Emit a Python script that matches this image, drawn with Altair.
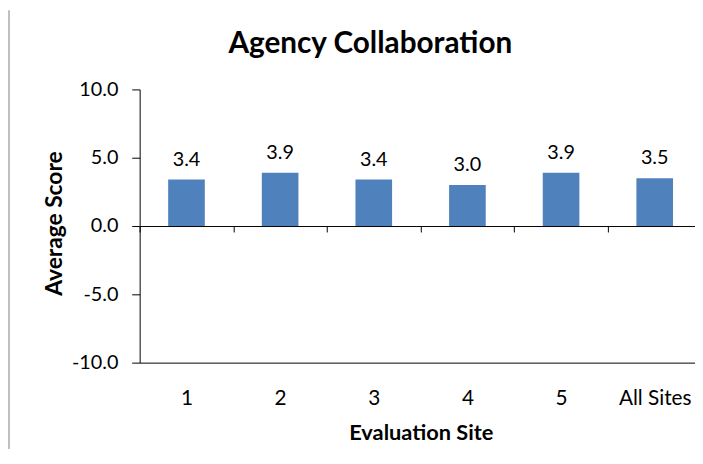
import altair as alt
import pandas as pd

sites = ["1", "2", "3", "4", "5", "All Sites"]
scores = [3.4, 3.9, 3.4, 3.0, 3.9, 3.5]
labels = ["3.4", "3.9", "3.4", "3.0", "3.9", "3.5"]
title_text = ["Agency Collaboration"]

idx = list(range(len(sites)))
df = pd.DataFrame({"pos": idx, "site": sites, "score": scores, "label": labels})
tdf = pd.DataFrame({"t": title_text})

FONT = "Lato"
W = 561
H = 276
STEP = 94.6  # pixel width of one category slot

label_expr = "[" + ",".join("'" + s + "'" for s in sites) + "][datum.value]"
boundaries = [-0.5] + [i + 0.5 for i in idx]

xscale = alt.Scale(domain=[-0.5, -0.5 + W / STEP], nice=False, zero=False, padding=0)
yscale = alt.Scale(domain=[-10, 10], nice=False, zero=False, padding=0)

yaxis = alt.Axis(
    values=[-10, -5, 0, 5, 10],
    labelExpr="(datum.value < 0 ? '-' : '') + format(abs(datum.value), '.1f')",
    tickSize=8, tickColor="black", domainColor="black", grid=False,
    labelFontSize=20, labelFont=FONT, labelColor="black", labelPadding=14,
    title="Average Score", titleFontSize=23, titleFont=FONT, titleFontWeight="bold",
    titleColor="black", titlePadding=5, titleY=135,
)

xaxis_bottom = alt.Axis(
    orient="bottom", values=idx, labelExpr=label_expr,
    ticks=False, domain=True, domainColor="black",
    labelFontSize=21, labelFont=FONT, labelColor="black", labelPadding=25, labelAngle=0,
    title="Evaluation Site", titleFontSize=22, titleFont=FONT, titleFontWeight="bold",
    titleColor="black", titlePadding=15, titleX=284, grid=False,
)

xaxis_zero = alt.Axis(
    orient="bottom", offset=-H / 2, values=boundaries, labels=False, title=None,
    domain=True, domainColor="black", ticks=True, tickSize=6, tickColor="black",
    grid=False,
)

bars = alt.Chart(df).mark_bar(color="#4F81BD", size=37, orient="vertical").encode(
    x=alt.X("pos:Q", scale=xscale, axis=xaxis_bottom),
    y=alt.Y("score:Q", scale=yscale, axis=yaxis),
)

zero_axis = alt.Chart(df).mark_point(opacity=0).encode(
    x=alt.X("pos:Q", scale=xscale, axis=xaxis_zero),
    y=alt.Y("score:Q", scale=yscale),
)

texts = alt.Chart(df).mark_text(
    dy=-14, baseline="alphabetic", fontSize=20, font=FONT, color="black"
).encode(
    x=alt.X("pos:Q", scale=xscale, axis=None),
    y=alt.Y("score:Q", scale=yscale),
    text="label:N",
)

title = alt.Chart(tdf).mark_text(
    fontSize=30, fontWeight="bold", font=FONT, color="black", baseline="middle"
).encode(x=alt.value(233), y=alt.value(-46), text="t:N")

border = alt.Chart(tdf).mark_rule(color="#BFBFBF", strokeWidth=2).encode(
    x=alt.value(-132), y=alt.value(-80), y2=alt.value(400)
)

chart = alt.layer(bars, zero_axis, texts, title, border).resolve_axis(
    x="independent"
).properties(
    width=W, height=H,
    autosize=alt.AutoSizeParams(type="none"),
    padding={"left": 133, "top": 80, "right": 0, "bottom": 85},
).configure_view(stroke=None)

chart.save("out.html", embed_options={"renderer": "svg", "actions": False})
